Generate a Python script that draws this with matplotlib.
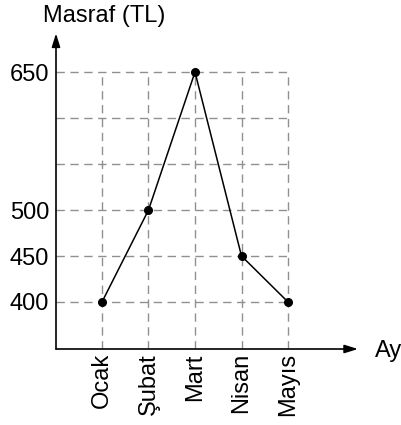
import matplotlib.pyplot as plt

plt.rcParams['font.family'] = ['Liberation Sans', 'DejaVu Sans']

months = ["Ocak", "Şubat", "Mart", "Nisan", "Mayıs"]
expenses = [400, 500, 650, 450, 400]
yticks = [400, 450, 500, 650]
grid_levels = [400, 450, 500, 550, 600, 650]

fig = plt.figure(figsize=(4.02, 4.25), dpi=100)
ax = fig.add_axes([56/402, (425-349)/425, 304/402, (349-30)/425])
ax.set_xlim(-0.989, 5.548)
ax.set_ylim(348.9, 695.7)
for s in ax.spines.values():
    s.set_visible(False)

x = list(range(len(months)))

# dashed grid
dash = dict(color="#909090", lw=1.0, linestyles=(0, (6, 4)), zorder=1)
ax.hlines(grid_levels, -0.989, x[-1], **dash)
ax.vlines(x, 348.9, 650, **dash)

# axes with arrows
arrow = dict(arrowstyle="-|>,head_width=0.25,head_length=0.8",
             color="black", lw=1.2, shrinkA=0, shrinkB=0)
ax.annotate("", xy=(-0.989, 692), xytext=(-0.989, 348.9),
            arrowprops=arrow, annotation_clip=False)
ax.annotate("", xy=(5.505, 348.9), xytext=(-0.989, 348.9),
            arrowprops=arrow, annotation_clip=False)

ax.plot(x, expenses, color="black", lw=1.1, marker="o", markersize=5.5, zorder=3)

ax.set_xticks(x)
ax.set_xticklabels(months, rotation=90, fontsize=17)
ax.set_yticks(yticks)
ax.set_yticklabels([str(v) for v in yticks], fontsize=17)
ax.tick_params(axis="x", length=0, pad=3)
ax.tick_params(axis="y", length=0, pad=5)

fig.text(43/402, 1 - 22/425, "Masraf (TL)", fontsize=17, ha="left", va="baseline")
fig.text(375/402, 1 - 357/425, "Ay", fontsize=17, ha="left", va="baseline")

fig.savefig("out.png", dpi=100)
